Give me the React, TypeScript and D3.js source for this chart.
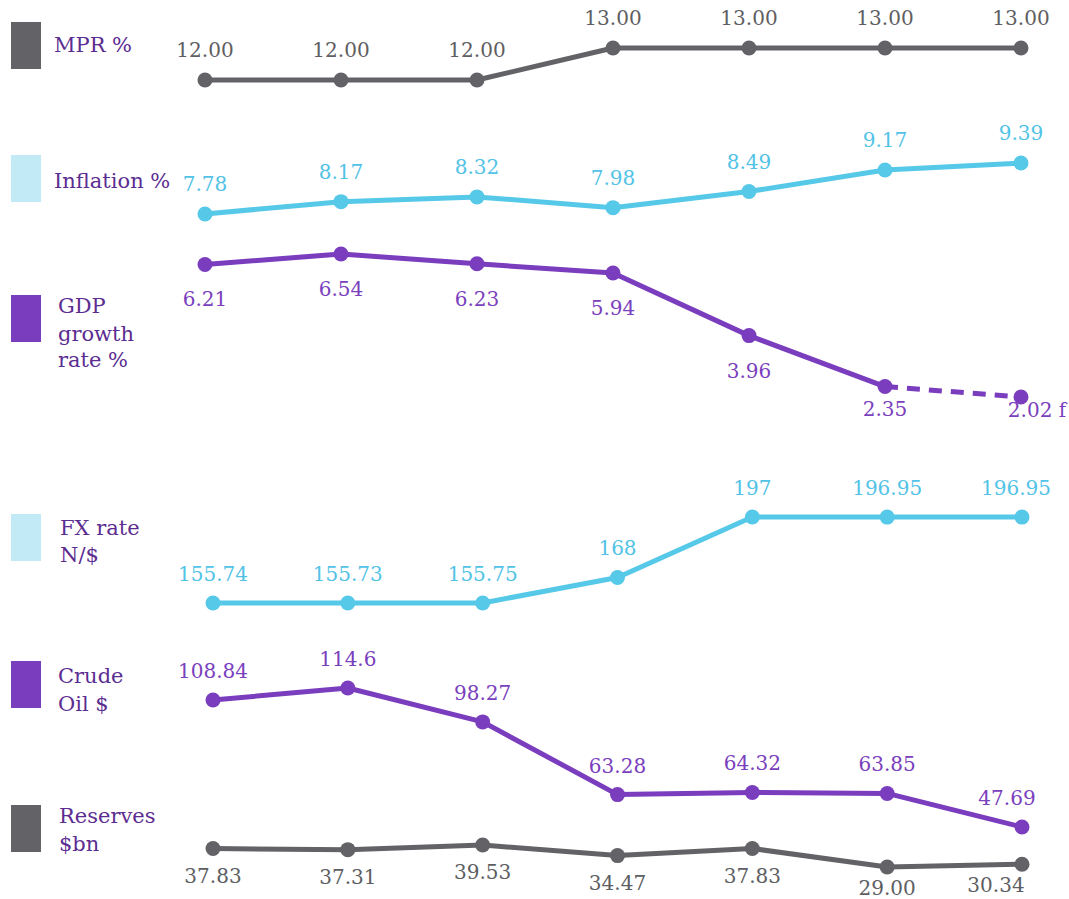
import * as d3 from "d3";

const WIDTH = 1069;
const HEIGHT = 899;

const GRAY = "#636367";
const BLUE = "#56c8e8";
const BLUE_LIGHT = "#c2e9f6";
const PURPLE = "#7a3dbd";
const LABEL_PURPLE = "#5c2d91";
const FONT = "'DejaVu Serif', 'Liberation Serif', serif";

// seven periods, shared by every series
const periods = ["p1", "p2", "p3", "p4", "p5", "p6", "p7"];

const mprValues = [12, 12, 12, 13, 13, 13, 13];
const inflationValues = [7.78, 8.17, 8.32, 7.98, 8.49, 9.17, 9.39];
const gdpValues = [6.21, 6.54, 6.23, 5.94, 3.96, 2.35, 2.02];
const fxValues = [155.74, 155.73, 155.75, 168, 197, 196.95, 196.95];
const crudeValues = [108.84, 114.6, 98.27, 63.28, 64.32, 63.85, 47.69];
const reservesValues = [37.83, 37.31, 39.53, 34.47, 37.83, 29.0, 30.34];

const legendLabels = [
  ["MPR %"],
  ["Inflation %"],
  ["GDP", "growth", "rate %"],
  ["FX rate", "N/$"],
  ["Crude", "Oil $"],
  ["Reserves", "$bn"],
];

type Series = {
  key: string;
  values: number[];
  color: string;
  box: string;
  textColor: string;
  fmt: (v: number, i: number) => string;
  group: "top" | "bottom";
  yRange: [number, number]; // pixel rows for min and max of the series
  labelDy: number;
  boxY: number;
  legendX: number;
  legendY: number[];
  dashedFrom?: number;
};

const plain = (v: number) => String(v);
const fixed2 = (v: number) => v.toFixed(2);

const SERIES: Series[] = [
  { key: "mpr", values: mprValues, color: GRAY, box: GRAY, textColor: "#5d5e62", fmt: fixed2, group: "top", yRange: [80, 48], labelDy: -23, boxY: 22, legendX: 54, legendY: [52] },
  { key: "inflation", values: inflationValues, color: BLUE, box: BLUE_LIGHT, textColor: "#52c3e6", fmt: plain, group: "top", yRange: [214, 163], labelDy: -23, boxY: 155, legendX: 54, legendY: [188] },
  { key: "gdp", values: gdpValues, color: PURPLE, box: PURPLE, textColor: "#7a40bd", fmt: (v, i) => (i === 6 ? `${v} f` : plain(v)), group: "top", yRange: [397, 254], labelDy: 42, boxY: 295, legendX: 58, legendY: [313, 341, 367], dashedFrom: 5 },
  { key: "fx", values: fxValues, color: BLUE, box: BLUE_LIGHT, textColor: "#52c3e6", fmt: plain, group: "bottom", yRange: [603, 517], labelDy: -22, boxY: 514, legendX: 60, legendY: [535, 562] },
  { key: "crude", values: crudeValues, color: PURPLE, box: PURPLE, textColor: "#7a40bd", fmt: plain, group: "bottom", yRange: [827, 688], labelDy: -22, boxY: 661, legendX: 58, legendY: [683, 711] },
  { key: "reserves", values: reservesValues, color: GRAY, box: GRAY, textColor: "#5d5e62", fmt: fixed2, group: "bottom", yRange: [867, 845], labelDy: 34, boxY: 805, legendX: 59, legendY: [823, 851] },
];

// small hand nudges for labels that sit close to other marks or the edge
const LABEL_NUDGE: Record<string, { dx?: number; dy?: number }> = {
  "gdp-5": { dy: -13 },
  "gdp-6": { dx: 16, dy: -22 },
  "fx-6": { dx: -6 },
  "crude-6": { dx: -15 },
  "reserves-5": { dy: -6 },
  "reserves-6": { dx: -26, dy: -6 },
};

const xTop = d3.scalePoint<string>().domain(periods).range([205, 1021]);
const xBottom = d3.scalePoint<string>().domain(periods).range([213, 1022]);

const SeriesLine = ({ s }: { s: Series }) => {
  const x = s.group === "top" ? xTop : xBottom;
  const [lo, hi] = d3.extent(s.values) as [number, number];
  const y = d3.scaleLinear().domain([lo, hi]).range(s.yRange);
  const pts = s.values.map((v, i) => ({ v, i, px: x(periods[i]) as number, py: y(v) }));
  const line = d3
    .line<(typeof pts)[number]>()
    .x((d) => d.px)
    .y((d) => d.py);
  const cut = s.dashedFrom ?? pts.length - 1;
  const solid = pts.slice(0, cut + 1);
  const dashed = s.dashedFrom !== undefined ? pts.slice(cut) : [];

  return (
    <g>
      <path d={line(solid) || ""} fill="none" stroke={s.color} strokeWidth={5} strokeLinejoin="round" />
      {dashed.length > 1 && (
        <path d={line(dashed) || ""} fill="none" stroke={s.color} strokeWidth={5} strokeDasharray="13 9" />
      )}
      {pts.map((p) => (
        <circle key={p.i} cx={p.px} cy={p.py} r={7.5} fill={s.color} />
      ))}
      {pts.map((p) => {
        const n = LABEL_NUDGE[`${s.key}-${p.i}`] || {};
        return (
          <text
            key={p.i}
            x={p.px + (n.dx || 0)}
            y={p.py + s.labelDy + (n.dy || 0)}
            textAnchor="middle"
            fontSize={20}
            fontFamily={FONT}
            fill={s.textColor}
          >
            {s.fmt(p.v, p.i)}
          </text>
        );
      })}
    </g>
  );
};

export default function App() {
  return (
    <svg
      width={WIDTH}
      height={HEIGHT}
      style={{ position: "absolute", left: 0, top: 0, background: "#fff" }}
    >
      {SERIES.map((s, k) => (
        <g key={s.key}>
          <rect x={11} y={s.boxY} width={30} height={47} fill={s.box} />
          {legendLabels[k].map((t, j) => (
            <text
              key={j}
              x={s.legendX}
              y={s.legendY[j]}
              fontSize={21}
              fontFamily={FONT}
              fill={LABEL_PURPLE}
            >
              {t}
            </text>
          ))}
          <SeriesLine s={s} />
        </g>
      ))}
    </svg>
  );
}
